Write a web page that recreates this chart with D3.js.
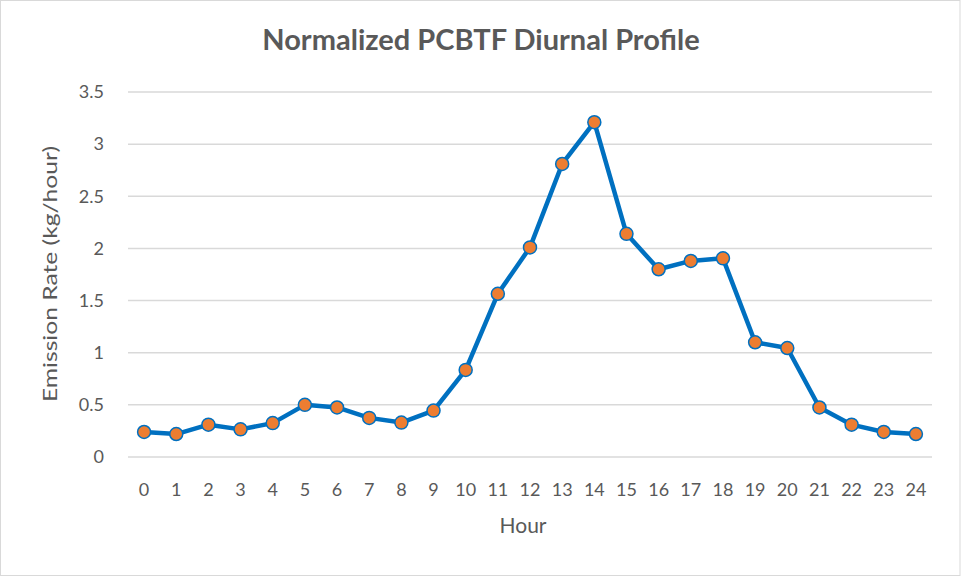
<!DOCTYPE html>
<html><head><meta charset="utf-8">
<script src="https://cdn.jsdelivr.net/npm/d3@7"></script>
<style>body{margin:0;background:#fff}svg{display:block}</style>
</head><body>
<svg id="c" width="961" height="577"></svg>
<script>
const hours = ["0","1","2","3","4","5","6","7","8","9","10","11","12","13","14","15","16","17","18","19","20","21","22","23","24"];
const emission = [0.24,0.22,0.31,0.265,0.325,0.50,0.475,0.375,0.33,0.445,0.835,1.565,2.01,2.81,3.21,2.14,1.80,1.88,1.905,1.10,1.045,0.475,0.31,0.24,0.22];
const yTicks = [0,0.5,1,1.5,2,2.5,3,3.5];
const title = "Normalized PCBTF Diurnal Profile";
const xTitle = "Hour";
const yTitle = "Emission Rate (kg/hour)";

const svg = d3.select("#c");
const W = 961, H = 577;
const m = {l:128, r:29, t:92, b:120};
const font = "Lato, 'Open Sans', sans-serif";
const grey = "#595959";

svg.append("rect").attr("x",0.5).attr("y",0.5).attr("width",W-1.5).attr("height",H-2)
  .attr("fill","#fff").attr("stroke","#d9d9d9").attr("stroke-width",1);

const x = d3.scaleBand().domain(hours).range([m.l, W-m.r]);
const y = d3.scaleLinear().domain([0,3.5]).range([H-m.b, m.t]);

// gridlines
svg.append("g").selectAll("line").data(yTicks).join("line")
  .attr("x1",m.l).attr("x2",W-m.r).attr("y1",d=>y(d)).attr("y2",d=>y(d))
  .attr("stroke","#d9d9d9").attr("stroke-width",1.5);

// y axis
const ya = svg.append("g").attr("transform",`translate(${m.l},0)`)
  .call(d3.axisLeft(y).tickValues(yTicks).tickSize(0).tickPadding(24).tickFormat(d=>String(d)));
ya.select(".domain").remove();
ya.selectAll("text").attr("font-family",font).attr("font-size",18).attr("fill",grey);

// x axis
const xa = svg.append("g").attr("transform",`translate(0,${H-m.b})`)
  .call(d3.axisBottom(x).tickSize(0).tickPadding(26));
xa.select(".domain").remove();
xa.selectAll("text").attr("font-family",font).attr("font-size",18).attr("fill",grey);

// line
const cx = d => x(d) + x.bandwidth()/2;
const line = d3.line().x((d,i)=>cx(hours[i])).y(d=>y(d));
svg.append("path").datum(emission).attr("d",line)
  .attr("fill","none").attr("stroke","#0070C0").attr("stroke-width",4.5).attr("stroke-linejoin","round");

svg.append("g").selectAll("circle").data(emission).join("circle")
  .attr("cx",(d,i)=>cx(hours[i])).attr("cy",d=>y(d)).attr("r",6.5)
  .attr("fill","#ED7D31").attr("stroke","#0070C0").attr("stroke-width",1.5);

// titles
svg.append("text").attr("x",481).attr("y",50).attr("text-anchor","middle")
  .attr("font-family",font).attr("font-weight","bold").attr("font-size",29).attr("fill",grey).text(title);
svg.append("text").attr("x",523).attr("y",533).attr("text-anchor","middle")
  .attr("font-family",font).attr("font-size",21).attr("fill",grey).text(xTitle);
svg.append("text").attr("transform","translate(57,274) rotate(-90)").attr("text-anchor","middle")
  .attr("font-family",font).attr("font-size",20).attr("fill",grey)
  .attr("textLength",256).attr("lengthAdjust","spacingAndGlyphs").text(yTitle);
</script>
</body></html>
